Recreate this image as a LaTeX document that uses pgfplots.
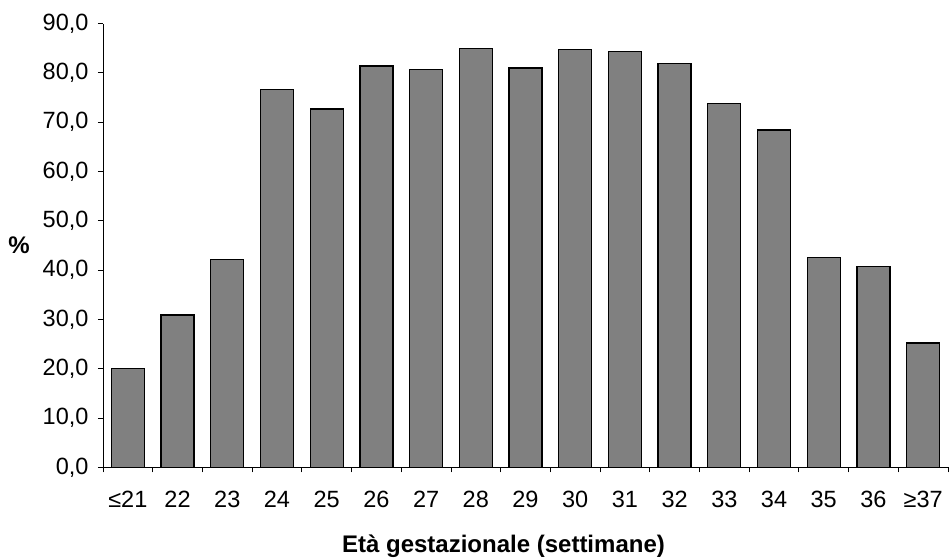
\documentclass[border=0pt]{standalone}
\usepackage{pgfplots}
\pgfplotsset{compat=1.18}
\usepackage{fontspec}
\setmainfont{Liberation Sans}

\pgfplotstableread{
idx val
0  20.1
1  30.9
2  42.2
3  76.7
4  72.7
5  81.4
6  80.7
7  85.0
8  81.0
9  84.7
10 84.3
11 81.9
12 73.8
13 68.4
14 42.6
15 40.8
16 25.2
}\etadata

\begin{document}
\begin{tikzpicture}
\begin{axis}[
  scale only axis,
  width=845pt, height=443.7pt,
  ymin=0, ymax=90,
  xmin=-0.5, xmax=16.5,
  axis x line*=bottom, axis y line*=left,
  axis line style={-, line width=0.9pt},
  ytick={0,10,...,90},
  xtick={0,...,16},
  xticklabels={≤21,22,23,24,25,26,27,28,29,30,31,32,33,34,35,36,≥37},
  minor xtick={-0.5,0.5,...,16.5},
  tick align=outside,
  major tick length=5pt,
  minor tick length=5pt,
  x tick style={draw=none},
  minor x tick style={draw=black, line width=0.8pt},
  y tick style={draw=black, line width=0.8pt},
  tick label style={font=\fontsize{23.5}{28}\selectfont},
  yticklabel style={xshift=-6pt, /pgf/number format/.cd, fixed, fixed zerofill, precision=1, use comma, assume math mode=true},
  xticklabel style={anchor=base, yshift=-35pt},
  every axis y label/.style={at={(axis description cs:0,0.5)}, anchor=center, xshift=-84pt},
  every axis x label/.style={at={(axis description cs:0.5,0)}, anchor=center, xshift=-22pt, yshift=-79pt},
  ylabel={\fontsize{24}{28}\selectfont\bfseries \%},
  xlabel={\fontsize{24}{28}\selectfont\bfseries Età gestazionale (settimane)},
  clip=false,
]
\addplot[ybar, bar width=33pt, fill=black!50, draw=black, line width=1.3pt] table[x=idx, y=val] {\etadata};
\end{axis}
\pgfresetboundingbox
\path (current axis.south west) ++(-103pt,-89.7pt) rectangle ++(950pt,557pt);
\end{tikzpicture}
\end{document}
